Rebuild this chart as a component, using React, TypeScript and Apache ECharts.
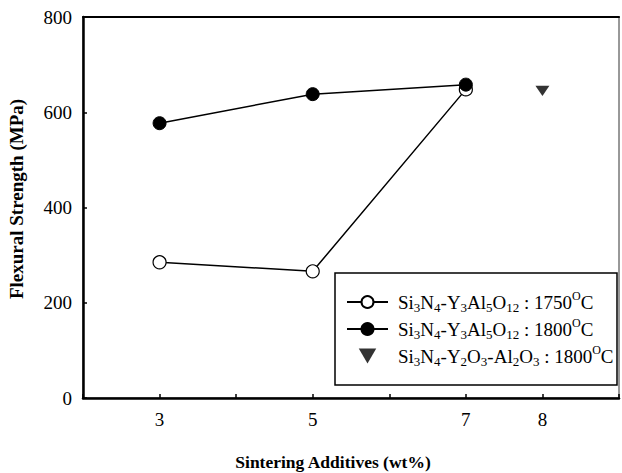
import React, { useEffect, useRef } from "react";
import * as echarts from "echarts";

const xOpen = [3, 5, 7];
const yOpen = [285, 266, 648];
const xFilled = [3, 5, 7];
const yFilled = [577, 638, 658];
const xTri = [8];
const yTri = [645];
const xLabels = [3, 5, 7, 8];
const seriesNames = [
  "Si3N4-Y3Al5O12 : 1750OC",
  "Si3N4-Y3Al5O12 : 1800OC",
  "Si3N4-Y2O3-Al2O3 : 1800OC",
];
const richNames: Record<string, string> = {
  [seriesNames[0]]: "{f|Si}{s|3}{t|N}{s|4}{t|-Y}{s|3}{t|Al}{s|5}{t|O}{s|12}{t| : 1750}{p|O}{t|C}",
  [seriesNames[1]]: "{f|Si}{s|3}{t|N}{s|4}{t|-Y}{s|3}{t|Al}{s|5}{t|O}{s|12}{t| : 1800}{p|O}{t|C}",
  [seriesNames[2]]: "{f|Si}{s|3}{t|N}{s|4}{t|-Y}{s|2}{t|O}{s|3}{t|-Al}{s|2}{t|O}{s|3}{t| : 1800}{p|O}{t|C}",
};

const FONT = "'Liberation Serif', 'Times New Roman', serif";

export default function App() {
  const ref = useRef<HTMLDivElement>(null);
  useEffect(() => {
    if (!ref.current) return;
    const chart = echarts.init(ref.current, undefined, { renderer: "svg" });
    const pair = (xs: number[], ys: number[]) => xs.map((x, i) => [x, ys[i]]);
    chart.setOption({
      animation: false,
      backgroundColor: "#fff",
      textStyle: { fontFamily: FONT, color: "#000" },
      grid: {
        left: 83,
        top: 17,
        right: 1,
        bottom: 75,
        show: true,
        borderColor: "#333",
        borderWidth: 1,
      },
      xAxis: [
        {
          type: "value",
          min: 2,
          max: 9,
          interval: 1,
          axisLine: { lineStyle: { color: "#000", width: 2.5 } },
          axisTick: { inside: true, length: 4, lineStyle: { color: "#000", width: 1.5 } },
          splitLine: { show: false },
          axisLabel: {
            fontFamily: FONT,
            fontSize: 19,
            color: "#000",
            margin: 12,
            formatter: (v: number) => (xLabels.includes(v) ? String(v) : ""),
          },
        },
        {
          type: "value",
          position: "top",
          min: 2,
          max: 9,
          interval: 1,
          axisLine: { show: true, lineStyle: { color: "#000", width: 2.2 } },
          axisTick: { show: false },
          axisLabel: { show: false },
          splitLine: { show: false },
        },
      ],
      yAxis: {
        type: "value",
        min: 0,
        max: 800,
        interval: 200,
        axisLine: { show: true, lineStyle: { color: "#000", width: 2.5 } },
        axisTick: { show: true, inside: true, length: 4, lineStyle: { color: "#000", width: 1.5 } },
        splitLine: { show: false },
        axisLabel: { fontFamily: FONT, fontSize: 19, color: "#000", margin: 11 },
      },
      legend: {
        orient: "vertical",
        left: 346,
        top: 290,
        padding: 0,
        itemWidth: 41,
        itemHeight: 15,
        itemGap: 3,
        data: seriesNames,
        formatter: (name: string) => richNames[name],
        textStyle: {
          fontFamily: FONT,
          fontSize: 19,
          color: "#000",
          rich: {
            f: { fontFamily: FONT, fontSize: 19, lineHeight: 24, color: "#000", padding: [0, 0, 0, 5] },
            t: { fontFamily: FONT, fontSize: 19, lineHeight: 24, color: "#000" },
            s: { fontFamily: FONT, fontSize: 13, lineHeight: 12, verticalAlign: "bottom", color: "#000" },
            p: { fontFamily: FONT, fontSize: 12, lineHeight: 12, verticalAlign: "top", color: "#000" },
          },
        },
      },
      graphic: [
        {
          type: "rect",
          shape: { x: 335, y: 273, width: 282, height: 112 },
          style: { fill: "#fff", stroke: "#000", lineWidth: 1.5 },
          z: 1,
        },
        {
          type: "text",
          x: 16,
          y: 199,
          rotation: Math.PI / 2,
          style: {
            text: "Flexural Strength (MPa)",
            font: `bold 19px 'Liberation Serif', 'Times New Roman', serif`,
            fill: "#000",
            align: "center",
            verticalAlign: "middle",
          },
        },
        {
          type: "text",
          x: 333,
          y: 462,
          style: {
            text: "Sintering Additives (wt%)",
            font: `bold 17.5px 'Liberation Serif', 'Times New Roman', serif`,
            fill: "#000",
            align: "center",
            verticalAlign: "middle",
          },
        },
      ],
      series: [
        {
          name: seriesNames[0],
          type: "line",
          data: pair(xOpen, yOpen),
          symbol: "circle",
          symbolSize: 13,
          lineStyle: { color: "#000", width: 1.5 },
          itemStyle: { color: "#fff", borderColor: "#000", borderWidth: 1.2 },
          z: 3,
        },
        {
          name: seriesNames[1],
          type: "line",
          data: pair(xFilled, yFilled),
          symbol: "circle",
          symbolSize: 13,
          lineStyle: { color: "#000", width: 1.5 },
          itemStyle: { color: "#000", borderColor: "#000", borderWidth: 1 },
          z: 4,
        },
        {
          name: seriesNames[2],
          type: "scatter",
          data: pair(xTri, yTri),
          symbol: "path://M0,0L14,0L7,12Z",
          symbolKeepAspect: true,
          symbolSize: [14, 12],
          itemStyle: { color: "#000" },
          z: 4,
        },
      ],
    });
    return () => chart.dispose();
  }, []);
  return (
    <div
      ref={ref}
      style={{ position: "fixed", left: 0, top: 0, width: 622, height: 473 }}
    />
  );
}
